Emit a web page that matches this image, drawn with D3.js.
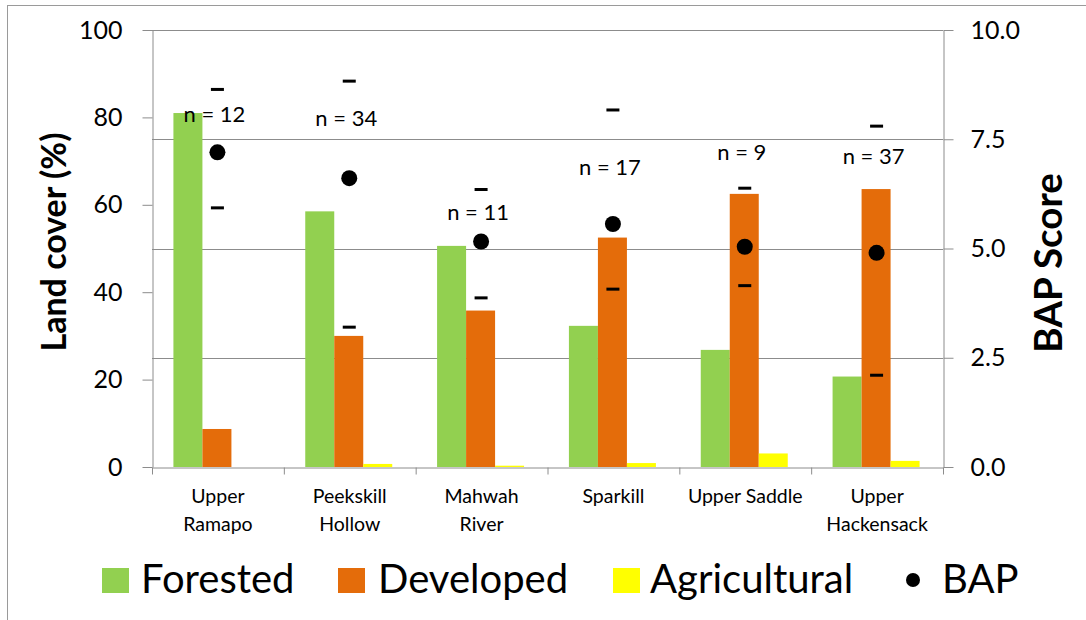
<!DOCTYPE html>
<html>
<head>
<meta charset="utf-8">
<script src="https://cdn.jsdelivr.net/npm/d3@7"></script>
<style>
  body { margin: 0; background: #fff; }
  text { font-family: Lato, "Open Sans", sans-serif; fill: #000; }
</style>
</head>
<body>
<svg id="chart"></svg>
<script>
// values
var categories = ["Upper\nRamapo", "Peekskill\nHollow", "Mahwah\nRiver", "Sparkill", "Upper Saddle", "Upper\nHackensack"];
var forested = [81.0, 58.5, 50.6, 32.3, 26.8, 20.7];
var developed = [8.7, 30.0, 35.8, 52.5, 62.5, 63.6];
var agricultural = [0.0, 0.7, 0.3, 0.9, 3.1, 1.4];
var bapScore = [7.20, 6.61, 5.16, 5.56, 5.04, 4.90];
var bapUpper = [8.64, 8.83, 6.35, 8.17, 6.38, 7.80];
var bapLower = [5.93, 3.20, 3.87, 4.07, 4.15, 2.10];
var nSites = [12, 34, 11, 17, 9, 37];
// where each "n = " label sits, in BAP score units
var nLabelAt = [7.90, 7.80, 5.65, 6.68, 7.02, 6.93];

var leftTicks = [0, 20, 40, 60, 80, 100];
var rightTicks = [0, 2.5, 5, 7.5, 10];

var seriesNames = ["Forested", "Developed", "Agricultural"];
var seriesColors = ["#92D050", "#E46C0A", "#FFFF00"];

const W = 1086, H = 620;
const plotL = 152, plotR = 943, plotT = 30, plotB = 467;

const svg = d3.select('#chart')
    .attr("width", W)
    .attr("height", H);

// outer frame
svg.append("rect")
    .attr("x", 7.5).attr("y", 5.5)
    .attr("width", W + 20).attr("height", H + 20)
    .attr("fill", "none")
    .attr("stroke", "#9a9a9a");

var x = d3.scaleBand()
    .domain(d3.range(categories.length))
    .range([plotL, plotR]);

var xs = d3.scaleBand()
    .domain(seriesNames)
    .range([0, 87]);

var y = d3.scaleLinear()
    .domain([0, 100])
    .range([plotB, plotT]);

var y2 = d3.scaleLinear()
    .domain([0, 10])
    .range([plotB, plotT]);

// gridlines follow the right axis
svg.append("g")
    .selectAll("line")
    .data(rightTicks.slice(1))
    .enter()
    .append("line")
    .attr("x1", plotL).attr("x2", plotR)
    .attr("y1", d => Math.round(y2(d)) + 0.5)
    .attr("y2", d => Math.round(y2(d)) + 0.5)
    .attr("stroke", "#8c8c8c");

// bars
var rows = categories.map((c, i) => ({
    i: i,
    vals: [forested[i], developed[i], agricultural[i]]
}));

var groups = svg.selectAll(".grp")
    .data(rows)
    .enter()
    .append("g")
    .attr("class", "grp")
    .attr("transform", d => `translate(${x(d.i) + x.bandwidth() / 2 - 44.5},0)`);

groups.selectAll("rect")
    .data(d => d.vals.map((v, k) => ({ s: seriesNames[k], v: v, c: seriesColors[k] })))
    .enter()
    .append("rect")
    .attr("x", d => xs(d.s))
    .attr("width", xs.bandwidth())
    .attr("y", d => y(d.v))
    .attr("height", d => plotB - y(d.v))
    .attr("fill", d => d.c);

// axes
var leftAxis = svg.append("g")
    .attr("transform", `translate(${plotL + 0.5},0)`)
    .call(d3.axisLeft(y).tickValues(leftTicks).tickSize(10).tickPadding(20).tickSizeOuter(0));

var rightAxis = svg.append("g")
    .attr("transform", `translate(${plotR + 0.5},0)`)
    .call(d3.axisRight(y2).tickValues(rightTicks).tickSize(10).tickPadding(17).tickSizeOuter(0)
        .tickFormat(d3.format(".1f")));

var bottomAxis = svg.append("g")
    .attr("transform", `translate(0,${plotB + 0.5})`)
    .call(d3.axisBottom(d3.scaleLinear().domain([0, categories.length]).range([plotL, plotR]))
        .ticks(categories.length).tickSize(7).tickFormat("").tickSizeOuter(0));

[leftAxis, rightAxis, bottomAxis].forEach(a => {
    a.selectAll("path, line").attr("stroke", "#8c8c8c");
    a.selectAll("text").attr("font-size", 25).attr("font-family", "Lato").attr("fill", "#000");
});

// category labels
var catText = svg.append("g")
    .selectAll("text")
    .data(categories)
    .enter()
    .append("text")
    .attr("text-anchor", "middle")
    .attr("font-size", 19.5)
    .attr("transform", (d, i) => `translate(${x(i) + x.bandwidth() / 2},503)`);

catText.selectAll("tspan")
    .data(d => d.split("\n"))
    .enter()
    .append("tspan")
    .attr("x", 0)
    .attr("y", (d, j) => j * 28)
    .text(d => d);

// BAP ranges and means
var cx = i => x(i) + x.bandwidth() / 2 - 0.5;

svg.append("g").selectAll("rect")
    .data(bapUpper.concat(bapLower))
    .enter()
    .append("rect")
    .attr("x", (d, i) => cx(i % 6) - 6.5)
    .attr("y", d => y2(d) - 1.5)
    .attr("width", 13)
    .attr("height", 3)
    .attr("fill", "#000");

svg.append("g").selectAll("circle")
    .data(bapScore)
    .enter()
    .append("circle")
    .attr("cx", (d, i) => cx(i))
    .attr("cy", d => y2(d))
    .attr("r", 8)
    .attr("fill", "#000");

svg.append("g").selectAll("text")
    .data(nSites)
    .enter()
    .append("text")
    .attr("x", (d, i) => cx(i) - 3)
    .attr("y", (d, i) => y2(nLabelAt[i]))
    .attr("text-anchor", "middle")
    .attr("font-size", 22)
    .text(d => `n = ${d}`);

// axis titles
svg.append("text")
    .attr("transform", "translate(66,242) rotate(-90)")
    .attr("text-anchor", "middle")
    .attr("font-size", 34)
    .attr("font-weight", "bold")
    .text("Land cover (%)");

svg.append("text")
    .attr("transform", "translate(1062,263) rotate(-90)")
    .attr("text-anchor", "middle")
    .attr("font-size", 38.5)
    .attr("font-weight", "bold")
    .text("BAP Score");

// legend
var legendItems = [
    { name: "Forested", color: seriesColors[0], x: 102, tx: 141 },
    { name: "Developed", color: seriesColors[1], x: 338, tx: 378 },
    { name: "Agricultural", color: seriesColors[2], x: 613, tx: 650 },
    { name: "BAP", color: "#000", x: 906, tx: 942, dot: true }
];

var lg = svg.append("g").selectAll("g")
    .data(legendItems)
    .enter()
    .append("g");

lg.filter(d => !d.dot).append("rect")
    .attr("x", d => d.x).attr("y", 568)
    .attr("width", 27).attr("height", 25)
    .attr("fill", d => d.color);

lg.filter(d => d.dot).append("circle")
    .attr("cx", d => d.x + 7).attr("cy", 580)
    .attr("r", 7)
    .attr("fill", "#000");

lg.append("text")
    .attr("x", d => d.tx).attr("y", 593)
    .attr("font-size", 40)
    .text(d => d.name);
</script>
</body>
</html>
